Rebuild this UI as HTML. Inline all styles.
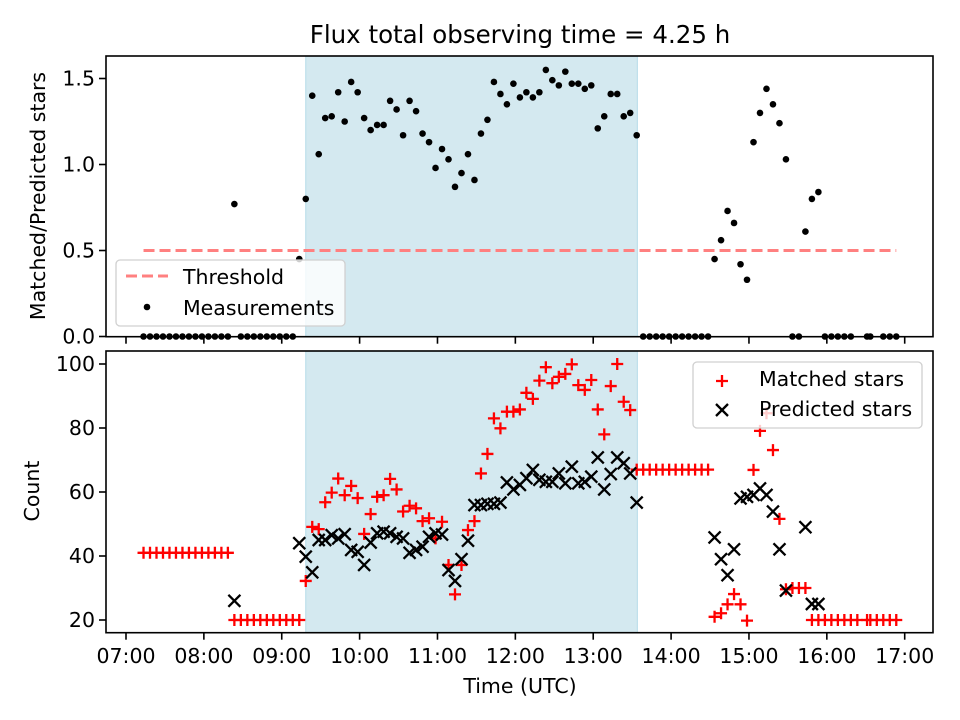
<!DOCTYPE html>
<html><head><meta charset="utf-8"><style>
html,body{margin:0;padding:0;background:#fff;}
svg{display:block;font-family:"DejaVu Sans","Liberation Sans",sans-serif;}
</style></head><body>
<svg id="chart" width="960" height="720" viewBox="0 0 960 720" xmlns="http://www.w3.org/2000/svg">
<rect width="960" height="720" fill="#fff"/>
<text x="520" y="43" font-size="24.5" text-anchor="middle" fill="#000">Flux total observing time = 4.25 h</text>
<g id="top"></g>
<g id="bottom"></g>
</svg>
<script>
// minutes after 07:00 for the top panel
const ratioTimes = [13.5,18.5,23.5,28.5,33.5,38.5,43.5,48.5,53.5,58.5,63.5,68.5,73.5,78.5,83.5,88.5,93.5,98.5,103.5,108.5,113.5,118.5,123.5,128.5,133.5,138.5,143.5,148.5,153.5,158.5,163.5,168.5,173.5,178.5,183.5,188.5,193.5,198.5,203.5,208.5,213.5,218.5,223.5,228.5,233.5,238.5,243.5,248.5,253.5,258.5,263.5,268.5,273.5,278.5,283.5,288.5,293.5,298.5,303.5,308.5,313.5,318.5,323.5,328.5,333.5,338.5,343.5,348.5,353.5,358.5,363.5,368.5,373.5,378.5,383.5,388.5,393.5,398.5,403.5,408.5,413.5,418.5,423.5,428.5,433.5,438.5,443.5,448.5,453.5,458.5,463.5,468.5,473.5,478.5,483.5,488.5,493.5,498.5,503.5,508.5,513.5,518.5,523.5,528.5,533.5,538.5,543.5,548.5,553.5,558.5,571,573.5,583.5,588.5,593.5];
const ratioValues = [0,0,0,0,0,0,0,0,0,0,0,0,0,0,0.77,0,0,0,0,0,0,0,0,0,0.45,0.80,1.40,1.06,1.27,1.28,1.42,1.25,1.48,1.42,1.27,1.20,1.23,1.23,1.37,1.32,1.17,1.37,1.31,1.18,1.13,0.98,1.09,1.03,0.87,0.95,1.06,0.91,1.18,1.26,1.48,1.41,1.35,1.47,1.39,1.42,1.39,1.42,1.55,1.49,1.46,1.54,1.47,1.47,1.44,1.46,1.21,1.28,1.41,1.41,1.28,1.30,1.17,0,0,0,0,0,0,0,0,0,0,0,0.45,0.56,0.73,0.66,0.42,0.33,1.13,1.30,1.44,1.35,1.24,1.03,0,0,0.61,0.80,0.84,0,0,0,0,0,0,0,0,0,0];
const thresholdValue = 0.5;
const thresholdRange = [13.5, 593.5];
const spanRange = [138.5, 394];
// bottom panel
const matchedTimes = [13.5,18.5,23.5,28.5,33.5,38.5,43.5,48.5,53.5,58.5,63.5,68.5,73.5,78.5,83.5,88.5,93.5,98.5,103.5,108.5,113.5,118.5,123.5,128.5,133.5,138.5,143.5,148.5,153.5,158.5,163.5,168.5,173.5,178.5,183.5,188.5,193.5,198.5,203.5,208.5,213.5,218.5,223.5,228.5,233.5,238.5,243.5,248.5,253.5,258.5,263.5,268.5,273.5,278.5,283.5,288.5,293.5,298.5,303.5,308.5,313.5,318.5,323.5,328.5,333.5,338.5,343.5,348.5,353.5,358.5,363.5,368.5,373.5,378.5,383.5,388.5,393.5,398.5,403.5,408.5,413.5,418.5,423.5,428.5,433.5,438.5,443.5,448.5,453.5,458.5,463.5,468.5,473.5,478.5,483.5,488.5,493.5,498.5,503.5,508.5,513.5,518.5,523.5,528.5,533.5,538.5,543.5,548.5,553.5,558.5,563.5,571,573.5,578.5,583.5,588.5,593.5];
const matchedValues = [41,41,41,41,41,41,41,41,41,41,41,41,41,41,20,20,20,20,20,20,20,20,20,20,20,32.2,49.1,48.4,56.8,59.8,64.2,59,61.9,58.1,46.9,53.1,58.5,59,64.1,60.8,53.9,55.7,54.9,50.9,51.8,45.5,50.7,37.2,28,37.2,48.1,50.9,65.8,71.9,83,79.9,85.1,85.1,85.8,91,89.1,94.8,99,94,96,96.9,99.9,93.4,91.9,95,85.8,78,93.1,100,88.2,85.6,67,67,67,67,67,67,67,67,67,67,67,67,21,22.1,24.9,28.1,24.9,19.8,66.9,79.1,84.6,73.1,51.6,29.6,30,30,30,20,20,20,20,20,20,20,20,20,20,20,20,20,20];
const predictedTimes = [83.5,133.5,138.5,143.5,148.5,153.5,158.5,163.5,168.5,173.5,178.5,183.5,188.5,193.5,198.5,203.5,208.5,213.5,218.5,223.5,228.5,233.5,238.5,243.5,248.5,253.5,258.5,263.5,268.5,273.5,278.5,283.5,288.5,293.5,298.5,303.5,308.5,313.5,318.5,323.5,328.5,333.5,338.5,343.5,348.5,353.5,358.5,363.5,368.5,373.5,378.5,383.5,388.5,393.5,453.5,458.5,463.5,468.5,473.5,478.5,483.5,488.5,493.5,498.5,503.5,508.5,523.5,528.5,533.5];
const predictedValues = [26,44,39.8,34.9,45,45,46.5,45.5,46.8,41.9,41.3,37.2,44.2,47.1,47.6,47.1,46,45.5,41,41.9,42.9,46,47.1,46.7,35.6,32.2,39,44.8,55.9,55.9,56.3,56.3,56.7,63,60.8,62.2,64.3,66.9,63.8,63.2,63.2,65.8,62.7,67.9,62.7,63.2,64.8,70.8,60.8,65.6,70.8,69,65.8,56.7,45.8,39,34,42.1,58,58.5,59.1,61.1,59.1,53.9,42.1,29.2,49,25,25];
const xTickLabels = ["07:00","08:00","09:00","10:00","11:00","12:00","13:00","14:00","15:00","16:00","17:00"];
const topTickValues = [0,0.5,1.0,1.5];
const bottomTickValues = [20,40,60,80,100];

const NS = "http://www.w3.org/2000/svg";
const FS = 20.5;
const AX = {left:106, right:933};
const TOP = {top:56, bottom:336.7};
const BOT = {top:351, bottom:632.7};
function xs(t){ return 126 + t * 77.87 / 60; }
function yTop(v){ return 336.5 - v * 172; }
function yBot(v){ return 620 - (v - 20) * 3.2; }
function mk(tag, attrs, parent){
  const e = document.createElementNS(NS, tag);
  for (const k in attrs) e.setAttribute(k, attrs[k]);
  parent.appendChild(e);
  return e;
}
const gTop = document.getElementById('top');
const gBot = document.getElementById('bottom');

function drawSpan(g, y0, y1, name){
  const r = mk('rect', {x: xs(spanRange[0]), y: y0, width: xs(spanRange[1]) - xs(spanRange[0]), height: y1 - y0, fill: '#d4e9f0', stroke: '#b5dbe8', 'stroke-width': 1}, g);
  
  
}
drawSpan(gTop, TOP.top, TOP.bottom, 'observing-span-top');
drawSpan(gBot, BOT.top, BOT.bottom, 'observing-span-bottom');

const th = mk('line', {x1: xs(thresholdRange[0]), x2: xs(thresholdRange[1]), y1: yTop(thresholdValue), y2: yTop(thresholdValue), stroke: '#ff8080', 'stroke-width': 3, 'stroke-dasharray': '11 5'}, gTop);



ratioTimes.forEach(function(t, i){
  const c = mk('circle', {cx: xs(t), cy: yTop(ratioValues[i]), r: 3.3, fill: '#000'}, gTop);
  
  
});

function plus(g, x, y, s){
  return mk('path', {d: 'M' + (x - s) + ' ' + y + 'H' + (x + s) + 'M' + x + ' ' + (y - s) + 'V' + (y + s), stroke: '#ff0000', 'stroke-width': 2.3, fill: 'none'}, g);
}
function cross(g, x, y, s){
  return mk('path', {d: 'M' + (x - s) + ' ' + (y - s) + 'L' + (x + s) + ' ' + (y + s) + 'M' + (x - s) + ' ' + (y + s) + 'L' + (x + s) + ' ' + (y - s), stroke: '#000', 'stroke-width': 2.3, fill: 'none'}, g);
}
matchedTimes.forEach(function(t, i){
  const p = plus(gBot, xs(t), yBot(matchedValues[i]), 6);
  
  
});
predictedTimes.forEach(function(t, i){
  const p = cross(gBot, xs(t), yBot(predictedValues[i]), 6);
  
  
});

function frame(g, b, name){
  const r = mk('rect', {x: AX.left, y: b.top, width: AX.right - AX.left, height: b.bottom - b.top, fill: 'none', stroke: '#000', 'stroke-width': 1.6}, g);
  
  
}
frame(gTop, TOP, 'top-axes-frame');
frame(gBot, BOT, 'bottom-axes-frame');

xTickLabels.forEach(function(lbl, i){
  const x = xs(i * 60);
  const t1 = mk('line', {x1: x, x2: x, y1: TOP.bottom, y2: TOP.bottom + 7, stroke: '#000', 'stroke-width': 1.6}, gTop);
  
  
  const t2 = mk('line', {x1: x, x2: x, y1: BOT.bottom, y2: BOT.bottom + 7, stroke: '#000', 'stroke-width': 1.6}, gBot);
  
  
  const tx = mk('text', {x: x, y: 663, 'font-size': FS, 'text-anchor': 'middle', fill: '#000'}, gBot);
  tx.textContent = lbl;
  
  
});
topTickValues.forEach(function(v){
  const y = yTop(v);
  const t = mk('line', {x1: AX.left - 7, x2: AX.left, y1: y, y2: y, stroke: '#000', 'stroke-width': 1.6}, gTop);
  
  
  const tx = mk('text', {x: AX.left - 11, y: y + 7, 'font-size': FS, 'text-anchor': 'end', fill: '#000'}, gTop);
  tx.textContent = v.toFixed(1);
  
  
});
bottomTickValues.forEach(function(v){
  const y = yBot(v);
  const t = mk('line', {x1: AX.left - 7, x2: AX.left, y1: y, y2: y, stroke: '#000', 'stroke-width': 1.6}, gBot);
  
  
  const tx = mk('text', {x: AX.left - 11, y: y + 7, 'font-size': FS, 'text-anchor': 'end', fill: '#000'}, gBot);
  tx.textContent = String(v);
  
  
});

let at = mk('text', {x: 520, y: 693, 'font-size': FS, 'text-anchor': 'middle', fill: '#000'}, gBot);
at.textContent = 'Time (UTC)';


at = mk('text', {x: 0, y: 0, 'font-size': FS, 'text-anchor': 'middle', fill: '#000', transform: 'translate(45,196) rotate(-90)'}, gTop);
at.textContent = 'Matched/Predicted stars';


at = mk('text', {x: 0, y: 0, 'font-size': FS, 'text-anchor': 'middle', fill: '#000', transform: 'translate(39,491) rotate(-90)'}, gBot);
at.textContent = 'Count';



let lg = mk('rect', {x: 116, y: 260, width: 229, height: 66, rx: 4, fill: 'rgba(255,255,255,0.8)', stroke: '#d0d0d0', 'stroke-width': 1.3}, gTop);


let le = mk('line', {x1: 126, x2: 168, y1: 276, y2: 276, stroke: '#ff8080', 'stroke-width': 3, 'stroke-dasharray': '11 5'}, gTop);


le = mk('text', {x: 183, y: 284, 'font-size': FS, fill: '#000'}, gTop);
le.textContent = 'Threshold';


le = mk('circle', {cx: 147, cy: 307, r: 3.3, fill: '#000'}, gTop);


le = mk('text', {x: 183, y: 315, 'font-size': FS, fill: '#000'}, gTop);
le.textContent = 'Measurements';



lg = mk('rect', {x: 693, y: 362, width: 229, height: 66, rx: 4, fill: 'rgba(255,255,255,0.8)', stroke: '#d0d0d0', 'stroke-width': 1.3}, gBot);


le = plus(gBot, 722, 381, 6);


le = mk('text', {x: 759, y: 386, 'font-size': FS, fill: '#000'}, gBot);
le.textContent = 'Matched stars';


le = cross(gBot, 722, 410, 6);


le = mk('text', {x: 759, y: 416, 'font-size': FS, fill: '#000'}, gBot);
le.textContent = 'Predicted stars';


</script>
</body></html>
